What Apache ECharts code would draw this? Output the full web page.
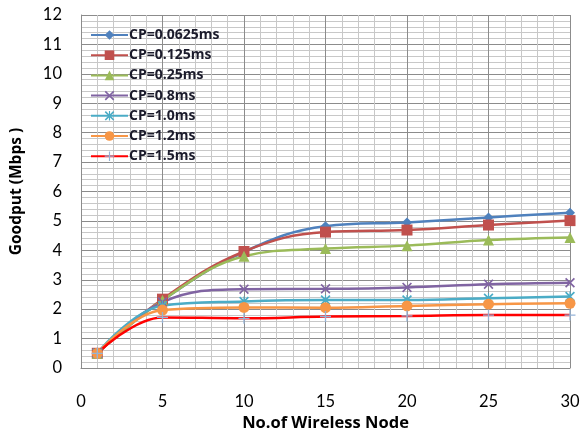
<!DOCTYPE html>
<html>
<head>
<meta charset="utf-8">
<script src="https://cdn.jsdelivr.net/npm/echarts@6/dist/echarts.min.js"></script>
<style>
  html, body { margin: 0; padding: 0; background: #fff; }
  #chart { width: 581px; height: 432px; }
</style>
</head>
<body>
<div id="chart"></div>
<script>
// number of wireless nodes
var nodes = [1, 5, 10, 15, 20, 25, 30];

// goodput (Mbps) per cyclic prefix
var cp00625 = [0.50, 2.30, 3.95, 4.82, 4.95, 5.12, 5.28];
var cp0125  = [0.50, 2.34, 3.96, 4.62, 4.69, 4.86, 5.01];
var cp025   = [0.50, 2.30, 3.80, 4.06, 4.16, 4.35, 4.44];
var cp08    = [0.50, 2.24, 2.68, 2.69, 2.74, 2.85, 2.90];
var cp10    = [0.50, 2.12, 2.26, 2.31, 2.31, 2.37, 2.43];
var cp12    = [0.50, 1.97, 2.06, 2.05, 2.11, 2.17, 2.20];
var cp15    = [0.50, 1.72, 1.69, 1.75, 1.77, 1.80, 1.80];

var names = ['CP=0.0625ms', 'CP=0.125ms', 'CP=0.25ms', 'CP=0.8ms', 'CP=1.0ms', 'CP=1.2ms', 'CP=1.5ms'];

var xMark = 'path://M0,1.2 L1.2,0 L5,3.8 L8.8,0 L10,1.2 L6.2,5 L10,8.8 L8.8,10 L5,6.2 L1.2,10 L0,8.8 L3.8,5 Z';
var starMark = 'path://M0,1.2 L1.2,0 L5,3.8 L8.8,0 L10,1.2 L6.2,5 L10,8.8 L8.8,10 L5,6.2 L1.2,10 L0,8.8 L3.8,5 Z M4.4,0 H5.6 V10 H4.4 Z';
var plusMark = 'path://M4.4,0 H5.6 V4.4 H10 V5.6 H5.6 V10 H4.4 V5.6 H0 V4.4 H4.4 Z';

var chart = echarts.init(document.getElementById('chart'));

function pairs(vals) {
    return nodes.map(function(n, i) { return [n, vals[i]]; });
}

function line(name, vals, color, symbol, size, symColor) {
    return {
        name: name,
        type: 'line',
        data: pairs(vals),
        smooth: 0.4,
        symbol: symbol,
        symbolSize: size,
        lineStyle: { color: color, width: 2.5 },
        itemStyle: { color: symColor || color },
        emphasis: { disabled: true }
    };
}

var font = 'Lato, "Open Sans", sans-serif';
var boldFont = '"Open Sans", Lato, sans-serif';

chart.setOption({
    animation: false,
    grid: { left: 81, right: 11, top: 15, bottom: 64, outerBoundsMode: 'none' },
    legend: {
        orient: 'vertical',
        left: 85,
        top: 23,
        itemWidth: 37,
        itemHeight: 12,
        itemGap: 6.2,
        data: names,
        textStyle: { fontFamily: boldFont, fontSize: 14, fontWeight: 'bold', color: '#1b1b2b', padding: [0, 0, 0, -4] }
    },
    xAxis: {
        type: 'value',
        min: 0,
        max: 30,
        interval: 5,
        name: 'No.of Wireless Node',
        nameLocation: 'middle',
        nameGap: 47,
        nameTextStyle: { fontFamily: boldFont, fontSize: 16.5, fontWeight: 'bold', color: '#000' },
        axisLine: { show: true, lineStyle: { color: '#8c8c8c', width: 1 } },
        axisTick: { show: false },
        axisLabel: { margin: 25, fontFamily: font, fontSize: 16.5, color: '#000' },
        splitLine: { show: true, lineStyle: { color: '#8c8c8c', width: 1 } },
        minorTick: { show: false, splitNumber: 5 },
        minorSplitLine: { show: true, lineStyle: { color: '#c8c8c8', width: 1 } }
    },
    yAxis: {
        type: 'value',
        min: 0,
        max: 12,
        interval: 1,
        name: 'Goodput (Mbps )',
        nameLocation: 'middle',
        nameGap: 56,
        nameTextStyle: { fontFamily: boldFont, fontSize: 15.5, fontWeight: 'bold', color: '#000' },
        axisLine: { show: true, lineStyle: { color: '#8c8c8c', width: 1 } },
        axisTick: { show: false },
        axisLabel: { margin: 19, fontFamily: font, fontSize: 16.5, color: '#000' },
        splitLine: { show: true, lineStyle: { color: '#8c8c8c', width: 1 } },
        minorTick: { show: false, splitNumber: 5 },
        minorSplitLine: { show: true, lineStyle: { color: '#c8c8c8', width: 1 } }
    },
    series: [
        line(names[0], cp00625, '#4F81BD', 'diamond', 10),
        line(names[1], cp0125, '#C0504D', 'rect', 11),
        line(names[2], cp025, '#9BBB59', 'triangle', 11),
        line(names[3], cp08, '#8064A2', xMark, 10),
        line(names[4], cp10, '#4BACC6', starMark, 10),
        line(names[5], cp12, '#F79646', 'circle', 11),
        line(names[6], cp15, '#FF0000', plusMark, 11, '#95B3D7')
    ]
});
</script>
</body>
</html>
